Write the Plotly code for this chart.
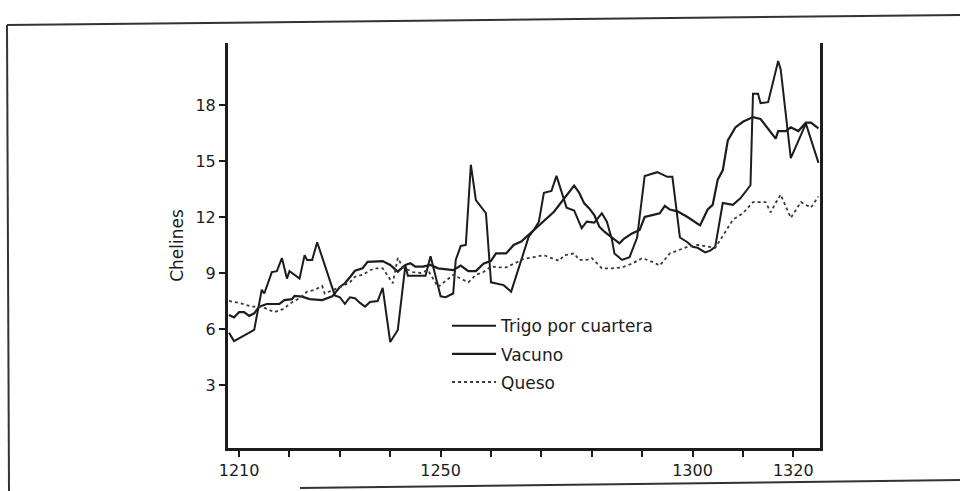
import plotly.graph_objects as go

# ---- data ----
trigo_years = [1208, 1209, 1213, 1214.5, 1215, 1216.5, 1217.5, 1218.5, 1219.5, 1220, 1222, 1223, 1223.5,
               1224.5, 1225.5, 1228.5, 1229, 1230, 1231, 1232, 1233, 1234, 1235, 1236, 1237.5, 1238.5,
               1240, 1241.5, 1242.5, 1243, 1243.5, 1247, 1248, 1250, 1251, 1252.5, 1253, 1254, 1255,
               1256, 1257, 1258.5, 1259, 1260, 1261, 1262.5, 1264, 1267.5, 1268.5, 1269.5, 1270.5, 1272,
               1273, 1275, 1276.5, 1278, 1279, 1280.5, 1282, 1283, 1284, 1284.5, 1286, 1287.5, 1289,
               1290.5, 1293, 1295, 1296, 1297.5, 1299, 1300, 1301, 1302.5, 1303.5, 1304.5, 1306, 1308,
               1309.5, 1311.5, 1312, 1313, 1313.5, 1315, 1317, 1317.5, 1319.5, 1322.5, 1325]
trigo_vals = [5.8, 5.35, 5.95, 8.1, 7.9, 9.05, 9.1, 9.8, 8.7, 9.1, 8.7, 9.95, 9.7,
              9.7, 10.65, 8.1, 7.8, 7.7, 7.35, 7.7, 7.65, 7.4, 7.2, 7.45, 7.5, 8.2,
              5.3, 5.95, 8.25, 9.4, 8.85, 8.85, 9.9, 7.75, 7.7, 7.9, 9.7, 10.45, 10.5,
              14.8, 12.9, 12.4, 12.2, 8.5, 8.45, 8.35, 8.0, 10.95, 11.3, 11.75, 13.3, 13.4,
              14.2, 12.5, 12.35, 11.4, 11.75, 11.7, 12.2, 11.75, 10.8, 10.05, 9.7, 9.85, 10.9,
              14.2, 14.4, 14.15, 14.15, 10.9, 10.65, 10.4, 10.35, 10.1, 10.2, 10.4, 12.75, 12.65,
              13.0, 13.7, 18.6, 18.6, 18.1, 18.15, 20.35, 19.9, 15.15, 17.0, 14.9]

vacuno_years = [1208, 1209, 1210, 1211, 1212, 1213, 1214, 1215.5, 1218, 1219, 1220.5, 1221, 1222.5,
                1224, 1226.5, 1228.5, 1230, 1231, 1232, 1233, 1234.5, 1235.5, 1238.5, 1240, 1241.5,
                1243, 1244, 1245, 1246.5, 1248, 1249.5, 1251, 1252.5, 1254, 1255.5, 1257, 1258.5,
                1260, 1261, 1263, 1264.5, 1266, 1272.5, 1276.5, 1277.5, 1278.5, 1279.5, 1280.5,
                1281.5, 1282.5, 1284.5, 1285.5, 1286.5, 1288, 1289.5, 1290.5, 1292, 1293.5, 1294.5,
                1295.5, 1297, 1299, 1301.5, 1303, 1304, 1305, 1306, 1307, 1308.5, 1310, 1312,
                1313.5, 1316.5, 1317, 1318.5, 1319.5, 1321, 1322.5, 1323.5, 1325]
vacuno_vals = [6.75, 6.62, 6.9, 6.9, 6.7, 6.84, 7.2, 7.34, 7.34, 7.55, 7.6, 7.77, 7.73,
               7.6, 7.55, 7.75, 8.25, 8.45, 8.77, 9.12, 9.25, 9.6, 9.64, 9.43, 9.07,
               9.43, 9.52, 9.34, 9.34, 9.43, 9.25, 9.2, 9.15, 9.4, 9.1, 9.1, 9.5,
               9.65, 10.05, 10.05, 10.5, 10.68, 12.28, 13.68, 13.3, 12.73, 12.46, 12.1,
               11.48, 11.21, 10.77, 10.59, 10.86, 11.12, 11.3, 12.0, 12.1, 12.2, 12.6,
               12.4, 12.3, 12.0, 11.55, 12.4, 12.65, 14.0, 14.5, 16.1, 16.8, 17.1, 17.35,
               17.25, 16.2, 16.6, 16.6, 16.8, 16.6, 17.05, 17.05, 16.75]

queso_years = [1208, 1210, 1212.5, 1214.5, 1217, 1219, 1220, 1222, 1223.5, 1225, 1226.5, 1227, 1230.5,
               1232, 1233, 1234.5, 1236, 1237, 1238.5, 1240.5, 1241.5, 1242.5, 1244.5, 1246, 1247.5,
               1249.5, 1252.5, 1254, 1255.5, 1257, 1258.5, 1260, 1261.5, 1263, 1264.5, 1266.5, 1268.5,
               1270.5, 1272, 1273.5, 1274.5, 1276.5, 1277.5, 1279, 1280, 1282, 1284, 1286, 1288, 1290,
               1292, 1293.5, 1295.5, 1297, 1299, 1301, 1303, 1304.5, 1306.5, 1308, 1310, 1312, 1314.5,
               1315.5, 1316.5, 1317.5, 1319.5, 1321.5, 1323.5, 1325]
queso_vals = [7.5, 7.4, 7.2, 7.2, 6.9, 7.1, 7.35, 7.65, 8.0, 8.1, 8.3, 7.9, 8.3,
              8.5, 8.8, 8.9, 9.15, 9.25, 9.25, 8.45, 9.8, 9.3, 9.05, 9.0, 9.15,
              8.25, 8.9, 8.7, 8.5, 8.9, 9.05, 9.35, 9.3, 9.3, 9.5, 9.75, 9.85,
              9.95, 9.8, 9.65, 9.95, 10.05, 9.7, 9.7, 9.8, 9.25, 9.25, 9.3, 9.5, 9.8,
              9.6, 9.4, 10.05, 10.2, 10.4, 10.5, 10.4, 10.35, 11.2, 11.85, 12.2, 12.8, 12.8,
              12.25, 12.75, 13.2, 11.95, 12.8, 12.5, 13.1]

series_names = ["Trigo por cuartera", "Vacuno", "Queso"]
x_tick_vals = [1210, 1220, 1230, 1240, 1250, 1260, 1270, 1280, 1290, 1300, 1310, 1320]
x_tick_text = ["1210", "", "", "", "1250", "", "", "", "", "1300", "", "1320"]
y_tick_vals = [3, 6, 9, 12, 15, 18]
y_title = "Chelines"

FONT = "DejaVu Sans, Liberation Sans, Arial, sans-serif"
INK = "#1c1c1c"

fig = go.Figure()
fig.add_trace(go.Scatter(x=trigo_years, y=trigo_vals, mode="lines", name=series_names[0],
                         legendgroup="a", line=dict(color=INK, width=2)))
fig.add_trace(go.Scatter(x=vacuno_years, y=vacuno_vals, mode="lines", name=series_names[1],
                         legendgroup="b", line=dict(color=INK, width=2.2)))
fig.add_trace(go.Scatter(x=queso_years, y=queso_vals, mode="lines", name=series_names[2],
                         legendgroup="c", line=dict(color="#3a3a3a", width=1.8, dash="dot")))

# decorative frame of the scanned figure box (plot area spans x 228..820 px, y 43..448 px)
def px(xp):
    return (xp - 228) / 592
def py(yp):
    return (448 - yp) / 405
frame = dict(type="line", xref="paper", yref="paper", line=dict(color="#333", width=2))
fig.update_layout(shapes=[
    dict(frame, x0=px(7), y0=py(25), x1=px(960), y1=py(15)),
    dict(frame, x0=px(7), y0=py(25), x1=px(9), y1=py(491)),
    dict(frame, x0=px(300), y0=py(488), x1=px(960), y1=py(480)),
])

fig.update_layout(
    width=960, height=491, autosize=False,
    margin=dict(l=228, r=140, t=43, b=43),
    paper_bgcolor="white", plot_bgcolor="white",
    font=dict(family=FONT, color=INK, size=16),
    showlegend=True,
    legend=dict(x=0.37, y=0.345, xanchor="left", yanchor="top",
                bgcolor="rgba(0,0,0,0)", font=dict(size=17, color=INK),
                tracegroupgap=3, itemwidth=44),
    xaxis=dict(range=[1207.8, 1325.3], tickmode="array", tickvals=x_tick_vals, ticktext=x_tick_text,
               showgrid=False, zeroline=False, showline=True, linecolor=INK, linewidth=2.5,
               ticks="outside", ticklen=6, tickwidth=1.5, tickcolor=INK,
               tickfont=dict(size=16, color=INK)),
    yaxis=dict(range=[-0.375, 21.32], tickmode="array", tickvals=y_tick_vals,
               showgrid=False, zeroline=False, showline=True, mirror=True, linecolor=INK, linewidth=3,
               ticks="outside", ticklen=6, tickwidth=1.5, tickcolor=INK,
               tickfont=dict(size=16, color=INK),
               title=dict(text=y_title, font=dict(size=17, color=INK), standoff=8)),
)

fig.write_html("out.html", config={"displayModeBar": False},
               post_script="document.body.style.margin='0';document.body.style.padding='0';")
